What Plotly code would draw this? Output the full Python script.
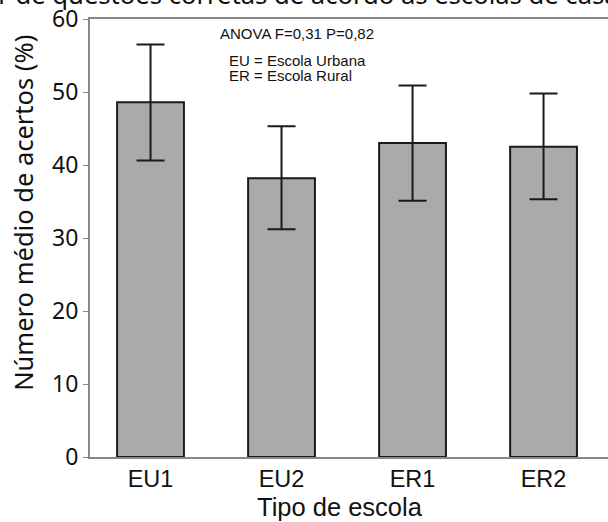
import plotly.graph_objects as go

categories = ["EU1", "EU2", "ER1", "ER2"]
means = [48.6, 38.2, 43.0, 42.5]
err_plus = [7.9, 7.1, 7.9, 7.3]
err_minus = [8.0, 7.0, 7.9, 7.2]
y_ticks = [0, 10, 20, 30, 40, 50, 60]

xpos = list(range(len(categories)))

L, T, B = 90, 18.5, 457
PW, PH = 608 - L, B - T


def px(x):
    return (x - L) / PW


def py(y):
    return (B - y) / PH


fig = go.Figure()
fig.add_trace(go.Bar(
    x=xpos, y=means, width=0.51,
    marker=dict(color="#aaaaaa", line=dict(color="#1a1a1a", width=2)),
    error_y=dict(type="data", symmetric=False, array=err_plus, arrayminus=err_minus,
                 color="#1a1a1a", thickness=2, width=14),
))

small = dict(family="Liberation Sans", size=15, color="#111")
fig.add_annotation(text="ANOVA F=0,31 P=0,82", xref="paper", yref="paper",
                   x=px(218), y=py(33), xanchor="left", yanchor="middle",
                   showarrow=False, font=small)
fig.add_annotation(text="EU = Escola Urbana", xref="paper", yref="paper",
                   x=px(227), y=py(60), xanchor="left", yanchor="middle",
                   showarrow=False, font=small)
fig.add_annotation(text="ER = Escola Rural", xref="paper", yref="paper",
                   x=px(227), y=py(75.5), xanchor="left", yanchor="middle",
                   showarrow=False, font=small)
fig.add_annotation(text="Valor de questões corretas de acordo as escolas de casa", xref="paper", yref="paper",
                   x=px(-55), y=py(13.5), xanchor="left", yanchor="bottom",
                   showarrow=False, font=dict(family="Noto Sans", size=25.6, color="#111"))
fig.add_annotation(text="Número médio de acertos (%)", xref="paper", yref="paper",
                   x=px(23), y=py(212.5), xanchor="center", yanchor="middle", textangle=-90,
                   showarrow=False, font=dict(family="Noto Sans", size=25.5, color="#111"))
fig.add_annotation(text="Tipo de escola", xref="paper", yref="paper",
                   x=px(340), y=py(507), xanchor="center", yanchor="middle",
                   showarrow=False, font=dict(family="Liberation Sans", size=25.5, color="#111"))

fig.update_layout(
    width=608, height=522,
    margin=dict(l=L, r=0, t=T, b=522 - B),
    plot_bgcolor="white", paper_bgcolor="white",
    showlegend=False,
    xaxis=dict(range=[-0.462, 3.492], tickvals=xpos, ticktext=categories,
               showline=True, mirror=True, linecolor="#888", linewidth=2,
               ticks="", showgrid=False, zeroline=False,
               tickfont=dict(family="Liberation Sans", size=23.5, color="#111")),
    yaxis=dict(range=[0, 60], tickvals=y_ticks, showline=True, linecolor="#888", linewidth=2,
               ticks="outside", ticklen=5, tickcolor="#888", tickwidth=1,
               showgrid=False, zeroline=False,
               tickfont=dict(family="Noto Sans", size=23, color="#111")),
)

fig.write_html("out.html")
